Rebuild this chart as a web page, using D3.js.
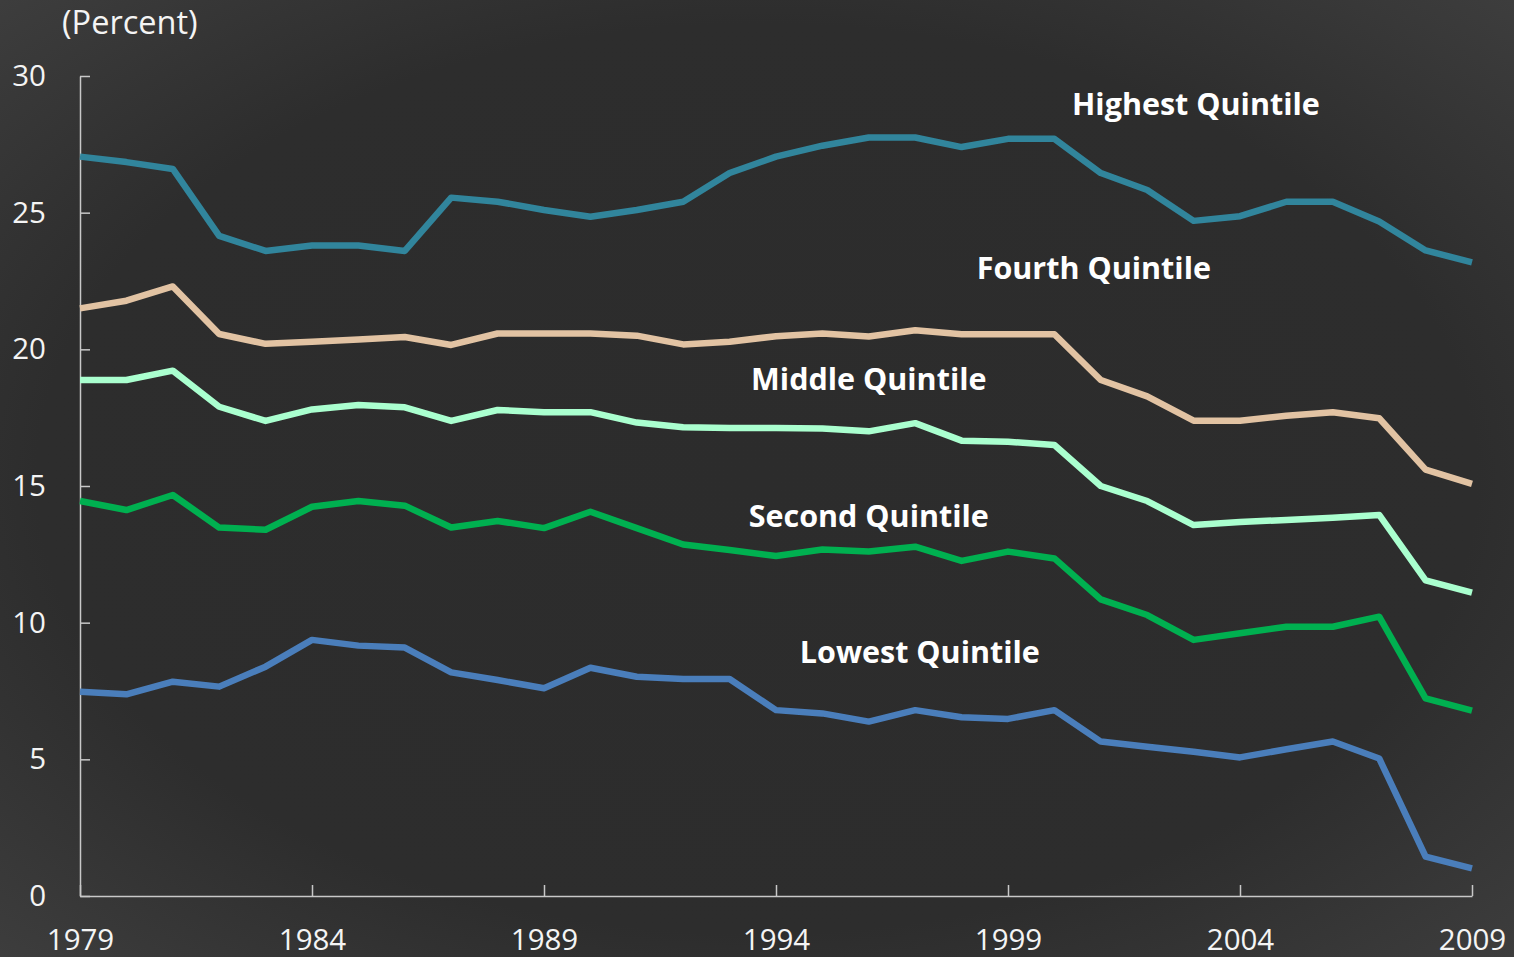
<!DOCTYPE html>
<html>
<head>
<meta charset="utf-8">
<script src="https://cdn.jsdelivr.net/npm/d3@7"></script>
<style>
  html, body { margin: 0; padding: 0; background: #2d2d2d; overflow: hidden; }
  svg { display: block; }
</style>
</head>
<body>
<div id="chart"></div>
<script>
// years on the x axis
const years = [1979, 1980, 1981, 1982, 1983, 1984, 1985, 1986, 1987, 1988,
               1989, 1990, 1991, 1992, 1993, 1994, 1995, 1996, 1997, 1998,
               1999, 2000, 2001, 2002, 2003, 2004, 2005, 2006, 2007, 2008, 2009];

// percent values
const highest = [27.05, 26.85, 26.6, 24.15, 23.6, 23.8, 23.8, 23.6, 25.55, 25.4,
                 25.1, 24.85, 25.1, 25.4, 26.45, 27.05, 27.45, 27.75, 27.75, 27.4,
                 27.7, 27.7, 26.45, 25.83, 24.7, 24.87, 25.4, 25.4, 24.68, 23.62, 23.18];
const fourth  = [21.5, 21.78, 22.3, 20.56, 20.2, 20.28, 20.36, 20.45, 20.16, 20.58,
                 20.58, 20.58, 20.5, 20.18, 20.28, 20.48, 20.58, 20.47, 20.7, 20.55,
                 20.55, 20.55, 18.88, 18.28, 17.39, 17.39, 17.57, 17.7, 17.48, 15.6, 15.08];
const middle  = [18.88, 18.88, 19.22, 17.9, 17.38, 17.8, 17.96, 17.88, 17.38, 17.78,
                 17.7, 17.7, 17.32, 17.15, 17.12, 17.12, 17.1, 17.0, 17.3, 16.66,
                 16.62, 16.5, 15.0, 14.45, 13.57, 13.68, 13.76, 13.84, 13.94, 11.55, 11.1];
const second  = [14.45, 14.12, 14.67, 13.48, 13.4, 14.24, 14.45, 14.28, 13.48, 13.72,
                 13.46, 14.06, 13.46, 12.86, 12.66, 12.44, 12.68, 12.6, 12.78, 12.26,
                 12.6, 12.35, 10.85, 10.28, 9.37, 9.61, 9.85, 9.85, 10.22, 7.23, 6.78];
const lowest  = [7.47, 7.38, 7.84, 7.66, 8.39, 9.37, 9.16, 9.09, 8.18, 7.9,
                 7.6, 8.35, 8.02, 7.94, 7.94, 6.8, 6.68, 6.38, 6.8, 6.54,
                 6.48, 6.8, 5.65, 5.46, 5.28, 5.07, 5.37, 5.65, 5.03, 1.44, 1.01];

const seriesNames  = ["Highest Quintile", "Fourth Quintile", "Middle Quintile", "Second Quintile", "Lowest Quintile"];
const seriesValues = [highest, fourth, middle, second, lowest];
const seriesColors = ["#31859c", "#e2c3a3", "#aaffcf", "#00b050", "#4a7ebb"];
// label anchor in data units [year, percent]
const labelAt = [[2003.05, 28.98], [2000.85, 22.95], [1996.0, 18.9], [1996.0, 13.9], [1997.1, 8.9]];

const yTicks = [0, 5, 10, 15, 20, 25, 30];
const xTicks = [1979, 1984, 1989, 1994, 1999, 2004, 2009];

const W = 1514, H = 957;
const svg = d3.select('#chart').append('svg')
    .attr('width', W)
    .attr('height', H);

// background with lighter corners
const defs = svg.append('defs');
const grad = defs.append('radialGradient')
    .attr('id', 'bg')
    .attr('cx', '50%').attr('cy', '50%').attr('r', '72%');
grad.append('stop').attr('offset', '0%').attr('stop-color', '#2c2c2c');
grad.append('stop').attr('offset', '66%').attr('stop-color', '#2d2d2d');
grad.append('stop').attr('offset', '100%').attr('stop-color', '#3e3e3e');
svg.append('rect').attr('width', W).attr('height', H).attr('fill', 'url(#bg)');

const x = d3.scaleLinear().domain([1979, 2009]).range([80, 1472]);
const y = d3.scaleLinear().domain([0, 30]).range([896, 76]);

const font = "'Open Sans', 'DejaVu Sans', sans-serif";
const axisColor = '#c8c8c8';

// y axis, ticks pointing into the plot
const yAxis = svg.append('g')
    .attr('transform', 'translate(80,0)')
    .call(d3.axisLeft(y).tickValues(yTicks).tickSizeInner(-10).tickSizeOuter(0).tickPadding(34));
// x axis, ticks pointing up
const xAxis = svg.append('g')
    .attr('transform', 'translate(0,896)')
    .call(d3.axisBottom(x).tickValues(xTicks).tickFormat(d3.format('d'))
        .tickSizeInner(-11).tickSizeOuter(0).tickPadding(33));

[yAxis, xAxis].forEach(g => {
    g.selectAll('path, line').attr('stroke', axisColor).attr('stroke-width', 1.5);
    g.selectAll('text')
        .attr('fill', '#f4f4f4')
        .style('font-family', font)
        .style('font-size', '29.5px');
});

// unit label
svg.append('text')
    .attr('x', 62)
    .attr('y', 34)
    .attr('fill', '#f4f4f4')
    .style('font-family', font)
    .style('font-size', '32.5px')
    .text('(Percent)');

// lines
const line = d3.line()
    .x((d, i) => x(years[i]))
    .y(d => y(d));

svg.selectAll('path.series')
    .data(seriesValues)
    .enter()
    .append('path')
    .attr('class', 'series')
    .attr('d', d => line(d))
    .attr('fill', 'none')
    .attr('stroke', (d, i) => seriesColors[i])
    .attr('stroke-width', 6.5)
    .attr('stroke-linejoin', 'round');

// series labels
svg.selectAll('text.label')
    .data(seriesNames)
    .enter()
    .append('text')
    .attr('class', 'label')
    .attr('x', (d, i) => x(labelAt[i][0]))
    .attr('y', (d, i) => y(labelAt[i][1]))
    .attr('dy', '0.35em')
    .attr('text-anchor', 'middle')
    .attr('fill', '#ffffff')
    .style('font-family', font)
    .style('font-weight', 700)
    .style('font-size', '30.5px')
    .text(d => d);
</script>
</body>
</html>
